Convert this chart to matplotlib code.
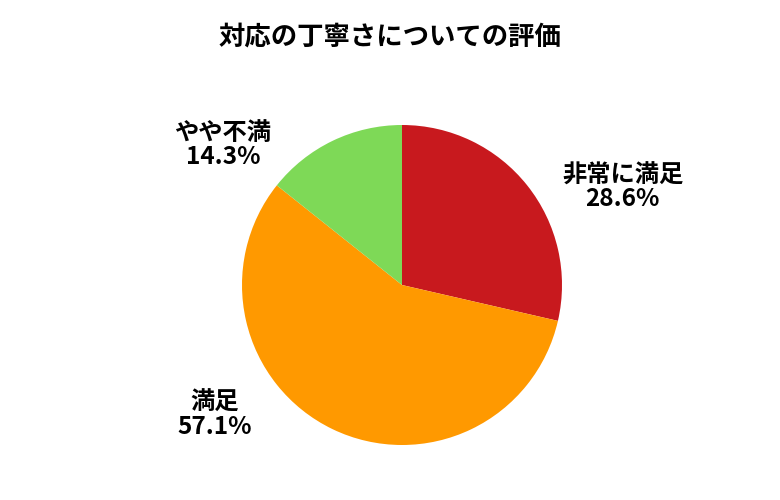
import matplotlib
matplotlib.use("Agg")
import matplotlib.pyplot as plt

plt.rcParams['font.family'] = ['Noto Sans CJK JP', 'DejaVu Sans']

categories = ["非常に満足", "満足", "やや不満"]
values = [28.6, 57.1, 14.3]
colors = ["#C8191E", "#FF9900", "#7ED957"]
label_pos = [(1.38, 0.61), (-1.17, -0.81), (-1.12, 0.875)]

fig = plt.figure(figsize=(7.8, 5), dpi=100)
ax = fig.add_axes([(402-160)/780, (500-445)/500, 320/780, 320/500])
wedges, texts = ax.pie(values, colors=colors, startangle=90, counterclock=False,
                       labels=[f"{c}\n{v:.1f}%" for c, v in zip(categories, values)],
                       textprops=dict(fontsize=17.5, fontweight='bold', ha='center', va='center', linespacing=1.0))
for t, p in zip(texts, label_pos):
    t.set_position(p)
    t.set_ha('center')
ax.set_xlim(-1, 1); ax.set_ylim(-1, 1)
ax.set_aspect('equal')
fig.text(390/780, 1-37/500, "対応の丁寧さについての評価", ha='center', va='center',
         fontsize=19, fontweight='bold')
fig.savefig("out.png", dpi=100)
